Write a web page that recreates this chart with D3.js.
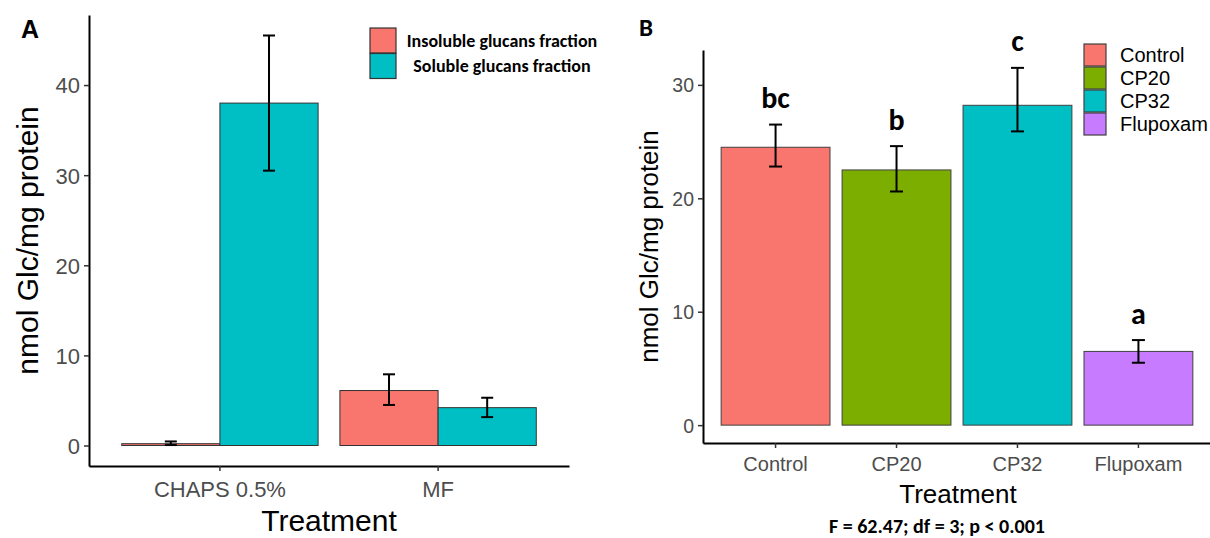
<!DOCTYPE html>
<html>
<head>
<meta charset="utf-8">
<script src="https://cdn.jsdelivr.net/npm/d3@7"></script>
<style>
  body { margin: 0; background: #fff; }
  svg { display: block; font-family: "Liberation Sans", Arial, sans-serif; }
  .bold { font-family: Calibri, "Open Sans", sans-serif; font-weight: bold; }
</style>
</head>
<body>
<svg id="chart" width="1210" height="538"></svg>
<script>
// ---- panel A data ----
var groupsA = ["CHAPS 0.5%", "MF"]
var fractionsA = ["Insoluble glucans fraction", "Soluble glucans fraction"]
var insolubleMean = [0.2, 6.1]
var insolubleLo = [0.05, 4.5]
var insolubleHi = [0.45, 7.9]
var solubleMean = [38.0, 4.2]
var solubleLo = [30.5, 3.15]
var solubleHi = [45.5, 5.3]
var ticksA = [0, 10, 20, 30, 40]

// ---- panel B data ----
var treatmentsB = ["Control", "CP20", "CP32", "Flupoxam"]
var meanB = [24.5, 22.5, 28.2, 6.5]
var loB = [22.8, 20.6, 25.9, 5.5]
var hiB = [26.5, 24.6, 31.5, 7.5]
var lettersB = ["bc", "b", "c", "a"]
var ticksB = [0, 10, 20, 30]
var statText = "F = 62.47; df = 3; p < 0.001"

var colorsA = ["#F8766D", "#00BFC4"]
var colorsB = ["#F8766D", "#7CAE00", "#00BFC4", "#C77CFF"]

var svg = d3.select("#chart")

// ================= Panel A =================
var A = { left: 89, right: 569, top: 15, bottom: 466 }
var gA = svg.append("g")

var yA = d3.scaleLinear()
    .domain([-2.275, 47.775])
    .range([A.bottom, A.top])

var xA = d3.scaleBand()
    .domain(groupsA)
    .range([A.left, A.right])
    .paddingInner(0)
    .paddingOuter(0.1)

var dodgeA = d3.scaleBand()
    .domain(fractionsA)
    .range([0, xA.bandwidth() * 0.9])

var rowsA = []
groupsA.forEach(function (g, i) {
    rowsA.push({ group: g, frac: fractionsA[0], mean: insolubleMean[i], lo: insolubleLo[i], hi: insolubleHi[i], c: colorsA[0] })
    rowsA.push({ group: g, frac: fractionsA[1], mean: solubleMean[i], lo: solubleLo[i], hi: solubleHi[i], c: colorsA[1] })
})

function barLeftA(d) { return xA(d.group) + xA.bandwidth() * 0.05 + dodgeA(d.frac) }

gA.selectAll("rect.bar")
    .data(rowsA)
    .enter()
    .append("rect")
    .attr("class", "bar")
    .attr("x", barLeftA)
    .attr("width", dodgeA.bandwidth())
    .attr("y", function (d) { return yA(d.mean) })
    .attr("height", function (d) { return yA(0) - yA(d.mean) })
    .attr("fill", function (d) { return d.c })
    .attr("stroke", "#333")
    .attr("stroke-width", 1)

// error bars
var errA = gA.selectAll("g.err")
    .data(rowsA)
    .enter()
    .append("g")
    .attr("transform", function (d) { return "translate(" + (barLeftA(d) + dodgeA.bandwidth() / 2) + ",0)" })
    .attr("stroke", "#000")
    .attr("stroke-width", 2)
errA.append("line").attr("y1", function (d) { return yA(d.lo) }).attr("y2", function (d) { return yA(d.hi) })
errA.append("line").attr("x1", -6).attr("x2", 6).attr("y1", function (d) { return yA(d.lo) }).attr("y2", function (d) { return yA(d.lo) })
errA.append("line").attr("x1", -6).attr("x2", 6).attr("y1", function (d) { return yA(d.hi) }).attr("y2", function (d) { return yA(d.hi) })

// axes
var axisYA = gA.append("g")
    .attr("transform", "translate(" + A.left + ",0)")
    .call(d3.axisLeft(yA).tickValues(ticksA).tickSize(5).tickPadding(4).tickSizeOuter(0))
axisYA.select(".domain").attr("stroke", "#000").attr("stroke-width", 2)
axisYA.selectAll(".tick line").attr("stroke", "#333").attr("stroke-width", 1.5)
axisYA.selectAll(".tick text").attr("fill", "#4D4D4D").attr("font-size", 22).attr("dy", "0.36em")
    .attr("font-family", "Liberation Sans, Arial, sans-serif")

var axisXA = gA.append("g")
    .attr("transform", "translate(0," + A.bottom + ")")
    .call(d3.axisBottom(xA).tickSize(5).tickPadding(6).tickSizeOuter(0))
axisXA.select(".domain").attr("stroke", "#000").attr("stroke-width", 2)
axisXA.selectAll(".tick line").attr("stroke", "#333").attr("stroke-width", 1.5)
axisXA.selectAll(".tick text").attr("fill", "#4D4D4D").attr("font-size", 22).attr("dy", "0.9em")
    .attr("font-family", "Liberation Sans, Arial, sans-serif")

gA.append("text")
    .attr("x", (A.left + A.right) / 2)
    .attr("y", 531)
    .attr("text-anchor", "middle")
    .attr("font-size", 30)
    .text("Treatment")

gA.append("text")
    .attr("transform", "translate(38," + (A.top + A.bottom) / 2 + ") rotate(-90)")
    .attr("text-anchor", "middle")
    .attr("font-size", 30)
    .text("nmol Glc/mg protein")

gA.append("text")
    .attr("x", 21)
    .attr("y", 38)
    .attr("font-size", 25)
    .attr("font-weight", "bold")
    .text("A")

// legend A
var legA = gA.selectAll("g.leg")
    .data(fractionsA)
    .enter()
    .append("g")
    .attr("transform", function (d, i) { return "translate(370," + (28 + i * 25.5) + ")" })
legA.append("rect")
    .attr("width", 26).attr("height", 25)
    .attr("fill", function (d, i) { return colorsA[i] })
    .attr("stroke", "#333").attr("stroke-width", 1.2)
legA.append("text")
    .attr("class", "bold")
    .attr("x", 132)
    .attr("y", 12.5)
    .attr("dy", "0.36em")
    .attr("text-anchor", "middle")
    .attr("font-size", 18)
    .text(function (d) { return d })

// ================= Panel B =================
var B = { left: 703, right: 1211, top: 50, bottom: 443 }
var gB = svg.append("g")

var yB = d3.scaleLinear()
    .domain([-1.575, 33.075])
    .range([B.bottom, B.top])

var xB = d3.scaleBand()
    .domain(treatmentsB)
    .range([B.left, B.right])
    .paddingInner(0)
    .paddingOuter(0.1)

var rowsB = treatmentsB.map(function (t, i) {
    return { t: t, mean: meanB[i], lo: loB[i], hi: hiB[i], letter: lettersB[i], c: colorsB[i] }
})

function barLeftB(d) { return xB(d.t) + xB.bandwidth() * 0.05 }
function centerB(d) { return xB(d.t) + xB.bandwidth() / 2 }

gB.selectAll("rect.bar")
    .data(rowsB)
    .enter()
    .append("rect")
    .attr("class", "bar")
    .attr("x", barLeftB)
    .attr("width", xB.bandwidth() * 0.9)
    .attr("y", function (d) { return yB(d.mean) })
    .attr("height", function (d) { return yB(0) - yB(d.mean) })
    .attr("fill", function (d) { return d.c })
    .attr("stroke", "#404040")
    .attr("stroke-width", 1)

var errB = gB.selectAll("g.err")
    .data(rowsB)
    .enter()
    .append("g")
    .attr("transform", function (d) { return "translate(" + centerB(d) + ",0)" })
    .attr("stroke", "#000")
    .attr("stroke-width", 2)
errB.append("line").attr("y1", function (d) { return yB(d.lo) }).attr("y2", function (d) { return yB(d.hi) })
errB.append("line").attr("x1", -6.5).attr("x2", 6.5).attr("y1", function (d) { return yB(d.lo) }).attr("y2", function (d) { return yB(d.lo) })
errB.append("line").attr("x1", -6.5).attr("x2", 6.5).attr("y1", function (d) { return yB(d.hi) }).attr("y2", function (d) { return yB(d.hi) })

// significance letters
gB.selectAll("text.letter")
    .data(rowsB)
    .enter()
    .append("text")
    .attr("class", "bold")
    .attr("x", centerB)
    .attr("y", function (d) { return yB(d.hi + 2.4) })
    .attr("dy", "0.36em")
    .attr("text-anchor", "middle")
    .attr("font-size", 30)
    .text(function (d) { return d.letter })

var axisYB = gB.append("g")
    .attr("transform", "translate(" + B.left + ",0)")
    .call(d3.axisLeft(yB).tickValues(ticksB).tickSize(5).tickPadding(4).tickSizeOuter(0))
axisYB.select(".domain").attr("stroke", "#000").attr("stroke-width", 2)
axisYB.selectAll(".tick line").attr("stroke", "#333").attr("stroke-width", 1.5)
axisYB.selectAll(".tick text").attr("fill", "#4D4D4D").attr("font-size", 19.5).attr("dy", "0.36em")
    .attr("font-family", "Liberation Sans, Arial, sans-serif")

var axisXB = gB.append("g")
    .attr("transform", "translate(0," + B.bottom + ")")
    .call(d3.axisBottom(xB).tickSize(5).tickPadding(6).tickSizeOuter(0))
axisXB.select(".domain").attr("stroke", "#000").attr("stroke-width", 2)
axisXB.selectAll(".tick line").attr("stroke", "#333").attr("stroke-width", 1.5)
axisXB.selectAll(".tick text").attr("fill", "#4D4D4D").attr("font-size", 20).attr("dy", "0.85em")
    .attr("font-family", "Liberation Sans, Arial, sans-serif")

gB.append("text")
    .attr("x", 958)
    .attr("y", 503)
    .attr("text-anchor", "middle")
    .attr("font-size", 26)
    .text("Treatment")

gB.append("text")
    .attr("class", "bold")
    .attr("x", 937)
    .attr("y", 533)
    .attr("text-anchor", "middle")
    .attr("font-size", 20)
    .text(statText)

gB.append("text")
    .attr("transform", "translate(658," + (B.top + B.bottom) / 2 + ") rotate(-90)")
    .attr("text-anchor", "middle")
    .attr("font-size", 26)
    .text("nmol Glc/mg protein")

gB.append("text")
    .attr("class", "bold")
    .attr("x", 639)
    .attr("y", 36)
    .attr("font-size", 25)
    .text("B")

var legB = gB.selectAll("g.leg")
    .data(treatmentsB)
    .enter()
    .append("g")
    .attr("transform", function (d, i) { return "translate(1084," + (44 + i * 23) + ")" })
legB.append("rect")
    .attr("width", 22).attr("height", 22)
    .attr("fill", function (d, i) { return colorsB[i] })
    .attr("stroke", "#404040").attr("stroke-width", 1.2)
legB.append("text")
    .attr("x", 36)
    .attr("y", 11)
    .attr("dy", "0.36em")
    .attr("font-size", 20)
    .text(function (d) { return d })
</script>
</body>
</html>
